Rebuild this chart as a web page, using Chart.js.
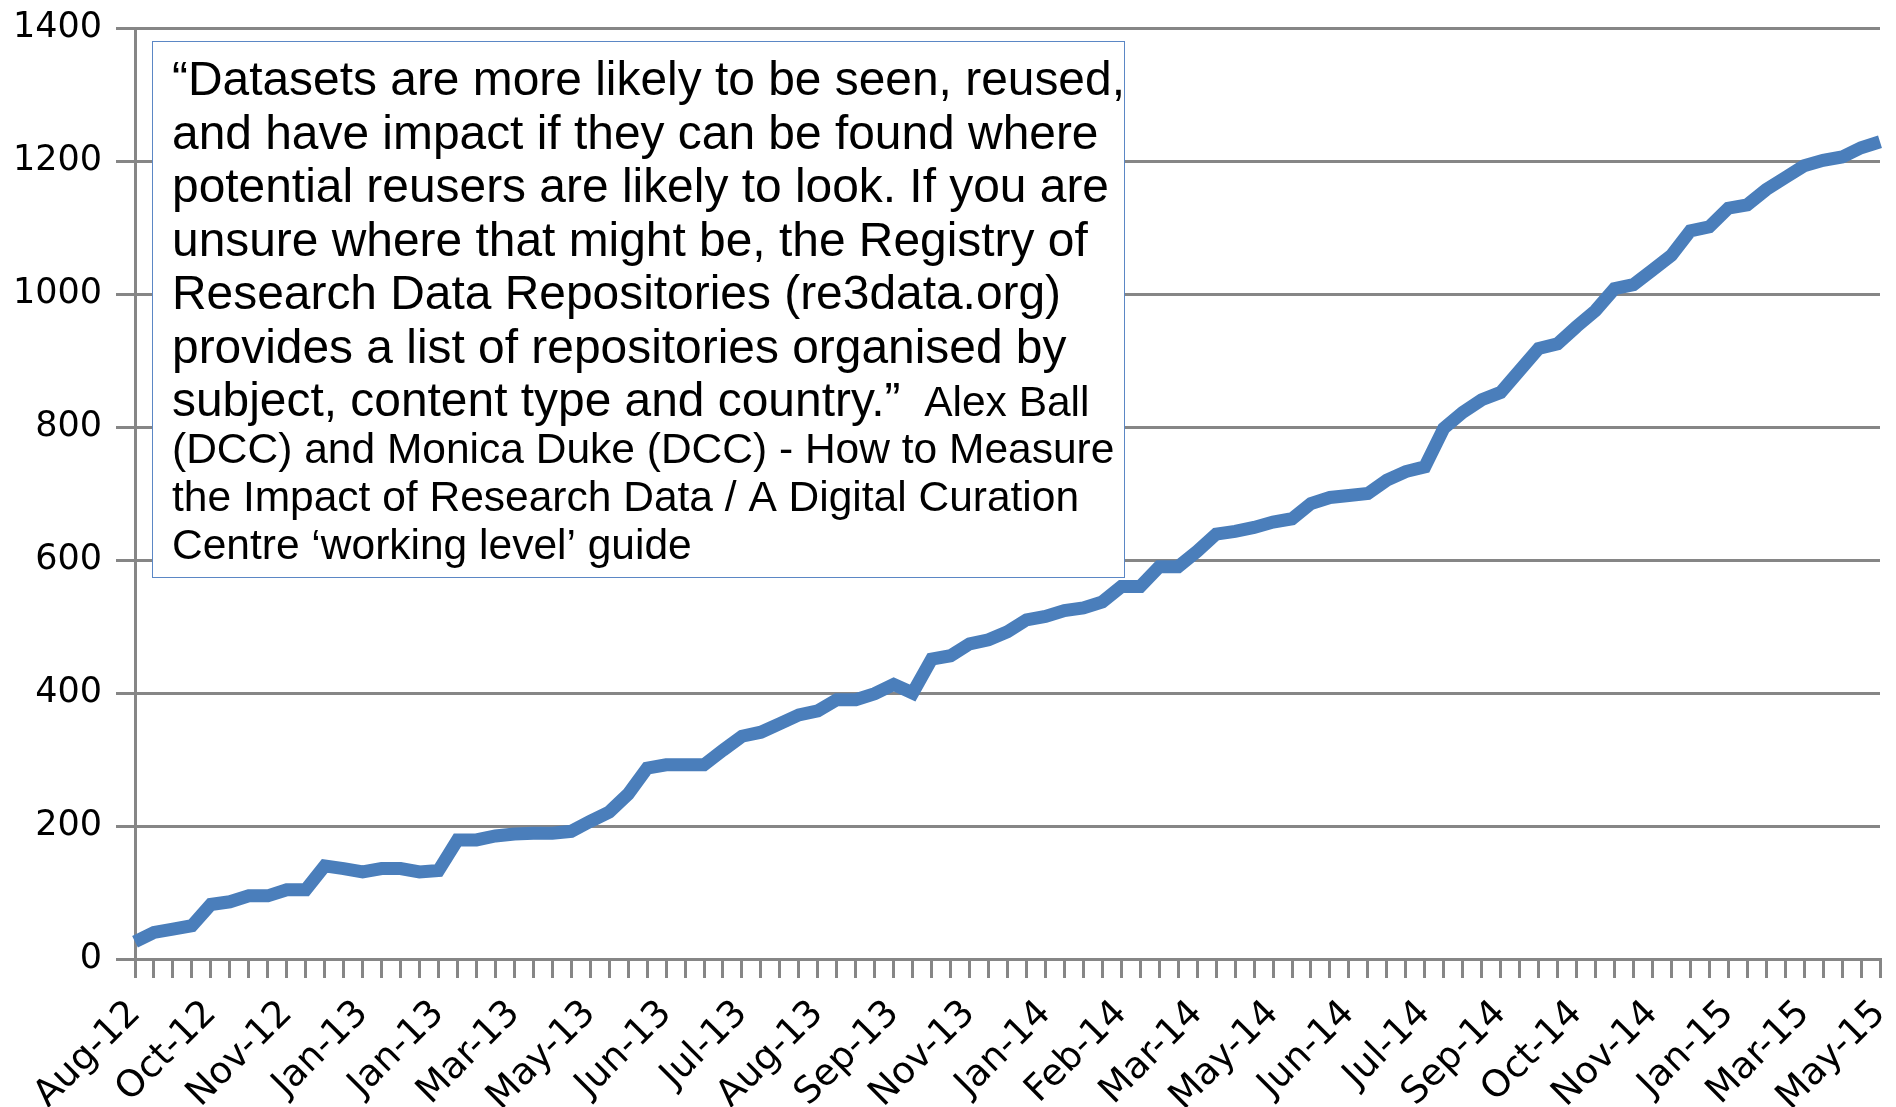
<!DOCTYPE html>
<html>
<head>
<meta charset="utf-8">
<script src="https://cdn.jsdelivr.net/npm/chart.js@4.4.1/dist/chart.umd.min.js"></script>
<style>
  html, body { margin: 0; padding: 0; background: #ffffff; overflow: hidden; }
  canvas { display: block; }
</style>
</head>
<body>
<canvas id="chart" width="1896" height="1107"></canvas>
<script>
// ---- data ----
const tickLabels = ['Aug-12','Oct-12','Nov-12','Jan-13','Jan-13','Mar-13','May-13','Jun-13',
  'Jul-13','Aug-13','Sep-13','Nov-13','Jan-14','Feb-14','Mar-14','May-14','Jun-14','Jul-14',
  'Sep-14','Oct-14','Nov-14','Jan-15','Mar-15','May-15'];
const labelEvery = 4; // one labelled tick every 4 categories

const repoCounts = [
  26, 40, 45, 50, 82, 86, 95, 95, 104, 104,
  140, 136, 131, 136, 136, 131, 133, 179, 179, 185,
  188, 189, 189, 192, 207, 221, 248, 287, 292, 292,
  292, 314, 335, 341, 354, 367, 373, 390, 390, 399,
  413, 400, 451, 456, 474, 480, 492, 510, 515, 524,
  528, 537, 560, 560, 590, 590, 613, 639, 643, 649,
  657, 662, 685, 694, 697, 700, 720, 733, 740, 798,
  822, 841, 852, 885, 918, 925, 951, 975, 1008, 1014,
  1036, 1058, 1095, 1101, 1129, 1134, 1157, 1175, 1193, 1201,
  1206, 1220, 1229
];

const yMin = 0, yMax = 1400, yStep = 200;

const quoteLines = [
  '\u201CDatasets are more likely to be seen, reused,',
  'and have impact if they can be found where',
  'potential reusers are likely to look. If you are',
  'unsure where that might be, the Registry of',
  'Research Data Repositories (re3data.org)',
  'provides a list of repositories organised by',
  'subject, content type and country.\u201D'
];
const citeLines = [
  'Alex Ball',
  '(DCC) and Monica Duke (DCC) - How to Measure',
  'the Impact of Research Data / A Digital Curation',
  'Centre \u2018working level\u2019 guide'
];

// category labels: labelled every 4th category
const categories = repoCounts.map((_, i) => (i % labelEvery === 0 ? tickLabels[i / labelEvery] : ''));

const GRID = '#868686';
const LINE = '#4a7ebb';

const notePlugin = {
  id: 'noteBox',
  afterDraw(chart) {
    const ctx = chart.ctx;
    ctx.save();
    ctx.fillStyle = '#ffffff';
    ctx.fillRect(152, 41, 973, 537);
    ctx.strokeStyle = '#5b87c5';
    ctx.lineWidth = 1;
    ctx.strokeRect(152.5, 41.5, 972, 536);

    ctx.fillStyle = '#000000';
    ctx.textAlign = 'left';
    ctx.textBaseline = 'alphabetic';
    const x0 = 172;
    const bigFont = '47.9px "Liberation Sans", Arial, sans-serif';
    const smallFont = '42.5px "Liberation Sans", Arial, sans-serif';
    ctx.font = bigFont;
    const y0 = 95, bigPitch = 53.5;
    quoteLines.forEach((t, i) => ctx.fillText(t, x0, y0 + i * bigPitch));
    const lastY = y0 + (quoteLines.length - 1) * bigPitch;
    const lastW = ctx.measureText(quoteLines[quoteLines.length - 1]).width;
    ctx.font = smallFont;
    const sp = ctx.measureText(' ').width;
    ctx.fillText(citeLines[0], x0 + lastW + 2 * sp, lastY);
    const smallPitch = 48;
    for (let i = 1; i < citeLines.length; i++) {
      ctx.fillText(citeLines[i], x0, lastY + 47 + (i - 1) * smallPitch);
    }
    ctx.restore();
  }
};

new Chart(document.getElementById('chart'), {
  type: 'line',
  data: {
    labels: categories,
    datasets: [{
      data: repoCounts,
      borderColor: LINE,
      backgroundColor: LINE,
      borderWidth: 13,
      pointRadius: 0,
      pointHoverRadius: 0,
      tension: 0,
      fill: false
    }]
  },
  options: {
    responsive: false,
    animation: false,
    devicePixelRatio: 1,
    layout: { padding: { top: 28, right: 16, bottom: 0, left: 0 } },
    plugins: { legend: { display: false }, tooltip: { enabled: false } },
    scales: {
      x: {
        type: 'category',
        offset: false,
        grid: { drawOnChartArea: false, drawTicks: true, tickLength: 19, color: GRID, lineWidth: 3 },
        border: { display: true, color: GRID, width: 3 },
        ticks: {
          autoSkip: false, maxRotation: 45, minRotation: 45, padding: 14,
          color: '#000000', font: { family: 'DejaVu Sans', size: 37 }
        },
        afterFit(s) { s.height = 148; s.paddingLeft = 0; s.paddingRight = 0; }
      },
      y: {
        min: yMin, max: yMax,
        grid: { color: GRID, lineWidth: 3, tickLength: 19, drawTicks: true },
        border: { display: true, color: GRID, width: 3 },
        ticks: {
          stepSize: yStep, padding: 14,
          color: '#000000', font: { family: 'DejaVu Sans', size: 35 },
          callback: (v) => String(v)
        },
        afterFit(s) { s.width = 135; s.paddingTop = 0; s.paddingBottom = 0; }
      }
    }
  },
  plugins: [notePlugin]
});
</script>
</body>
</html>
